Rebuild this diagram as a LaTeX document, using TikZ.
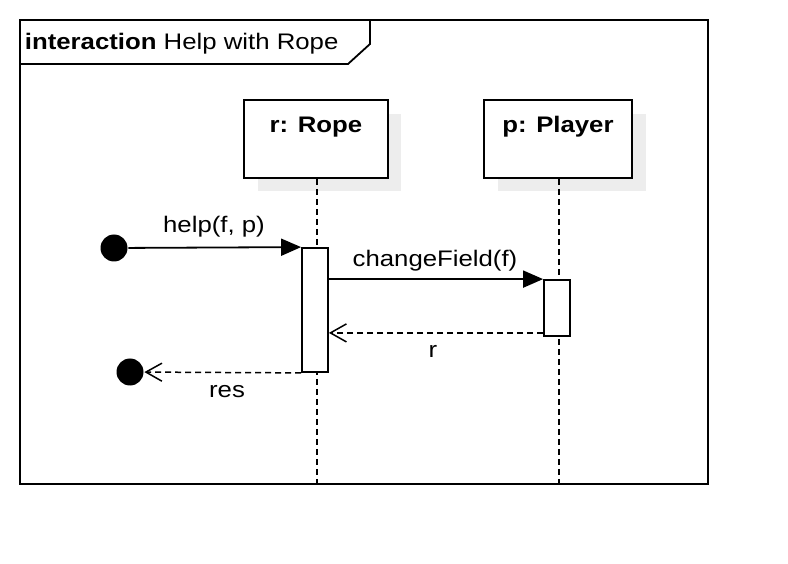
\documentclass[tikz,border=0pt]{standalone}
\usepackage{fontspec}
\setmainfont{Liberation Sans}[FakeStretch=1.145]
\usetikzlibrary{arrows.meta}
\begin{document}
\begin{tikzpicture}[x=1pt, y=-1pt, line width=1.8pt,
  font=\fontsize{22.5}{26}\selectfont,
  lifehead/.style={draw, fill=white, minimum width=144pt, minimum height=78pt, inner sep=0pt},
  shadowbox/.style={fill=black!7, draw=none},
  act/.style={draw, fill=white, minimum width=26pt, inner sep=0pt},
  life/.style={dash pattern=on 6pt off 4pt, line width=1.5pt},
  msg/.style={-{Triangle[length=20pt, width=17pt]}},
  ret/.style={line width=1.5pt, dash pattern=on 6pt off 4pt, -{Straight Barb[length=16pt, width=18pt, line width=1.5pt]}},
  endpoint/.style={circle, fill=black, minimum size=27pt, inner sep=0pt}]
  \useasboundingbox (0,0) rectangle (788,564);
  \draw (20,20) rectangle (708,484);
  \draw (20,64) -- (348,64) -- (370,44) -- (370,20);
  \node[anchor=base west, inner sep=0pt] (title) at (24,50) {\textbf{interaction} Help with Rope};
  \coordinate (framebottom) at (0,484);
  \fill[shadowbox] (258,114) rectangle (401,191);
  \fill[shadowbox] (498,114) rectangle (646,191);
  \node[lifehead] (rope) at (316,139) {};
  \node[lifehead, minimum width=148pt] (player) at (558,139) {};
  \node[anchor=base] (ropename) at (316,133) {\textbf{r: Rope}};
  \node[anchor=base] (playername) at (558,133) {\textbf{p: Player}};
  \draw[life] ([xshift=1pt]rope.south) -- ([xshift=1pt]rope.south |- framebottom);
  \draw[life] ([xshift=1pt]player.south) -- ([xshift=1pt]player.south |- framebottom);
  \node[act, minimum height=124pt] (ropeact) at (315,310) {};
  \node[act, minimum height=56pt] (playeract) at (557,308) {};
  \node[endpoint] (found) at (114,248) {};
  \node[endpoint] (lost) at (130,372) {};
  \draw[msg] (found) -- (ropeact.north west);
  \node[anchor=base] (helplbl) at (214,233) {help(f, p)};
  \draw[msg] (ropeact.east |- playeract.north) -- (playeract.north west);
  \node[anchor=base] (changelbl) at (435,267) {changeField(f)};
  \coordinate (rback) at ([yshift=4pt]playeract.south west);
  \draw[ret] (rback) -- (ropeact.east |- rback);
  \node[anchor=base] (rlbl) at (433,358) {r};
  \draw[ret] (ropeact.south west) -- (lost);
  \node[anchor=base] (reslbl) at (227,398) {res};
\end{tikzpicture}
\end{document}
